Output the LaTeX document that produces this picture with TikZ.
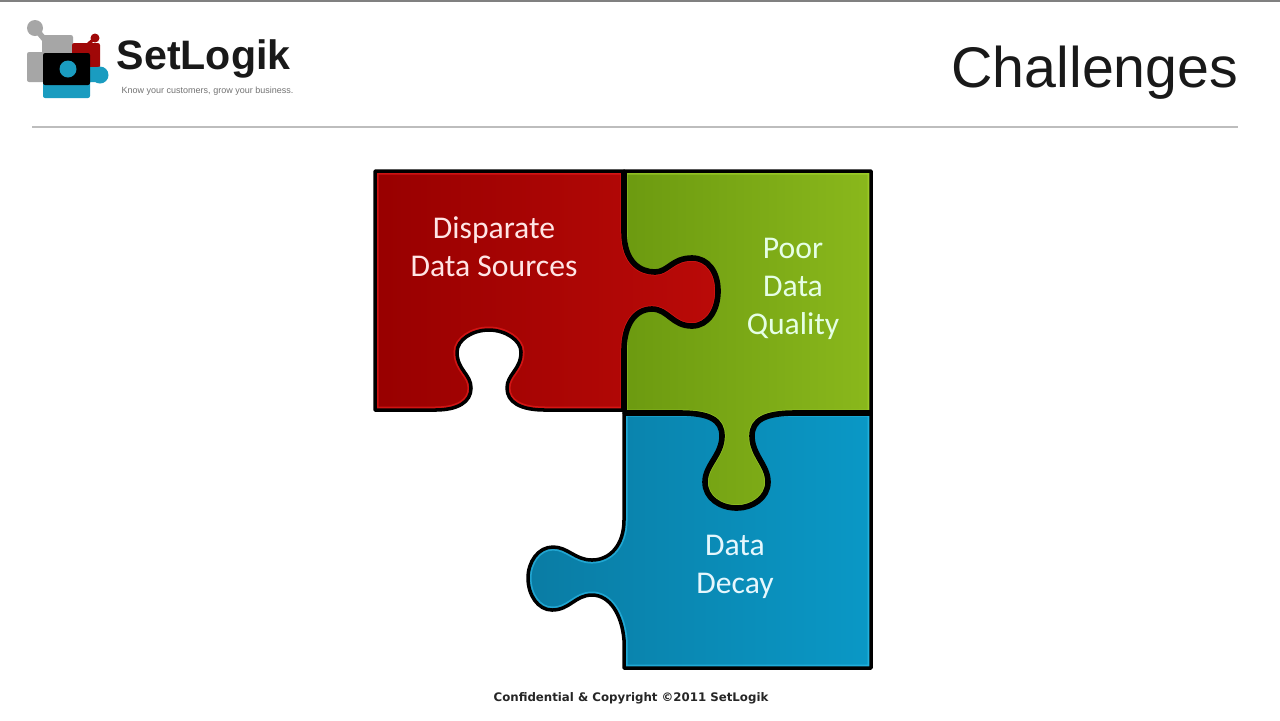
\documentclass[tikz,border=0pt]{standalone}
\usepackage{fontspec}
\setmainfont{Carlito}
\newfontfamily\logofont{Liberation Sans}
\newfontfamily\footfont{DejaVu Sans}
\definecolor{redleft}{HTML}{980000}
\definecolor{redright}{HTML}{BA0A08}
\definecolor{redglow}{HTML}{F02020}
\definecolor{greenleft}{HTML}{6C9A10}
\definecolor{greenright}{HTML}{8AB81C}
\definecolor{greenglow}{HTML}{A8D830}
\definecolor{blueleft}{HTML}{0A7CA4}
\definecolor{blueright}{HTML}{0A98C6}
\definecolor{blueglow}{HTML}{30C0EE}
\definecolor{logogray}{HTML}{A6A6A6}
\definecolor{logored}{HTML}{A00808}
\definecolor{logoteal}{HTML}{1A9CC0}
\definecolor{rulegray}{HTML}{BDBDBD}
\def\redtab{(624,171) -- (624,232) .. controls (624,262) and (640,272) .. (655,272) .. controls (668,272) and (672,258) .. (692,258) .. controls (708,258) and (718,272) .. (718,291) .. controls (718,310) and (708,326) .. (692,326) .. controls (672,326) and (668,309) .. (652,309) .. controls (635,309) and (624,325) .. (624,350) -- (624,410)}
\def\redpiece{(375,171) -- \redtab -- (545,410) .. controls (520,410) and (507,402) .. (507,388) .. controls (507,374) and (521,370) .. (521,352) .. controls (521,340) and (505,330) .. (489,330) .. controls (472,330) and (457,340) .. (457,352) .. controls (457,370) and (471,374) .. (471,388) .. controls (471,402) and (458,410) .. (435,410) -- (375,410) -- cycle}
\def\greentab{(871,413) -- (795,413) .. controls (765,413) and (752,420) .. (752,436) .. controls (752,455) and (768,465) .. (768,482) .. controls (768,498) and (752,508) .. (737,508) .. controls (720,508) and (705,498) .. (705,482) .. controls (705,465) and (722,455) .. (722,436) .. controls (722,420) and (710,413) .. (680,413) -- (624,413)}
\def\greenpiece{(624,171) -- (871,171) -- \greentab -- cycle}
\def\bluepiece{(624,413) -- (871,413) -- (871,668) -- (624,668) -- (624,640) .. controls (622,615) and (610,595) .. (592,595) .. controls (575,595) and (570,610) .. (552,610) .. controls (538,610) and (528,595) .. (528,578) .. controls (528,562) and (538,547) .. (553,547) .. controls (568,547) and (575,560) .. (592,560) .. controls (610,560) and (624,545) .. (624,520) -- cycle}
\begin{document}
\begin{tikzpicture}
[x=0.01cm,y=-0.01cm,
edge/.style={draw=black,line width=1pt,line join=round},
seam/.style={draw=black,line width=1.6pt,line join=round},
glow/.style={line width=2pt,opacity=0.6},
label/.style={inner sep=0pt,align=center,font=\fontsize{9}{10.85}\selectfont},
logobox/.style={rounded corners=0.6pt}]
\useasboundingbox (0,0) rectangle (1280,720);
\fill[white] (0,0) rectangle (1280,720);
\fill[gray] (0,0) rectangle (1280,2);

% header
\draw[rulegray,line width=0.4pt] (32,127) -- (1238,127);
\node[inner sep=0pt,anchor=base east,font=\logofont\fontsize{16.3}{20}\selectfont,text=black!90] (title) at (1239,87) {Challenges};

% logo
\fill[logogray] (35,28) circle (8);
\draw[logogray,line width=1.6pt] (35,28) -- (45,40);
\fill[logogray,logobox] (42,35) rectangle (73,56);
\fill[logogray,logobox] (27,52) rectangle (50,82);
\fill[logored,logobox] (72,43) rectangle (100,68);
\fill[logored] (95,38) circle (4.5);
\draw[logored,line width=0.9pt] (95,38) -- (86,46);
\fill[logoteal,logobox] (43,80) rectangle (90,98);
\fill[logoteal,logobox] (86,67) rectangle (100,82);
\fill[logoteal] (100,75) circle (8.5);
\fill[black,logobox] (43,53) rectangle (90,85);
\fill[logoteal] (68,69) circle (8.5);
\node[inner sep=0pt,anchor=west,font=\logofont\bfseries\fontsize{11.7}{14}\selectfont,text=black!90] (brand) at (116,59) {SetLogik};
\node[inner sep=0pt,anchor=west,font=\logofont\fontsize{2.56}{3}\selectfont,text=black!55] (tagline) at (121,91) {Know your customers, grow your business.};

% blue piece
\fill[left color=blueleft,right color=blueright] \bluepiece;
\begin{scope}
\clip \bluepiece;
\draw[blueglow,glow] \bluepiece;
\end{scope}
\draw[edge] \bluepiece;

% green piece
\fill[left color=greenleft,right color=greenright] \greenpiece;
\begin{scope}
\clip \greenpiece;
\draw[greenglow,glow] \greenpiece;
\end{scope}
\draw[edge] \greenpiece;

% red piece
\fill[left color=redleft,right color=redright] \redpiece;
\begin{scope}
\clip \redpiece;
\draw[redglow,glow] \redpiece;
\end{scope}
\draw[edge] \redpiece;

% seams between the pieces
\draw[seam] \redtab;
\draw[seam] \greentab;

% labels
\node[label,text=white!90!red] (disparate) at (494,247) {Disparate\\Data Sources};
\node[label,text=white!90!green] (quality) at (793,289) {Poor\\Data\\Quality};
\node[label,text=white!90!cyan] (decay) at (735,567) {Data\\Decay};

% footer
\node[inner sep=0pt,font=\footfont\bfseries\fontsize{3.35}{4}\selectfont,text=black!85] (footer) at (631,698) {Confidential \& Copyright ©2011 SetLogik};
\end{tikzpicture}
\end{document}
